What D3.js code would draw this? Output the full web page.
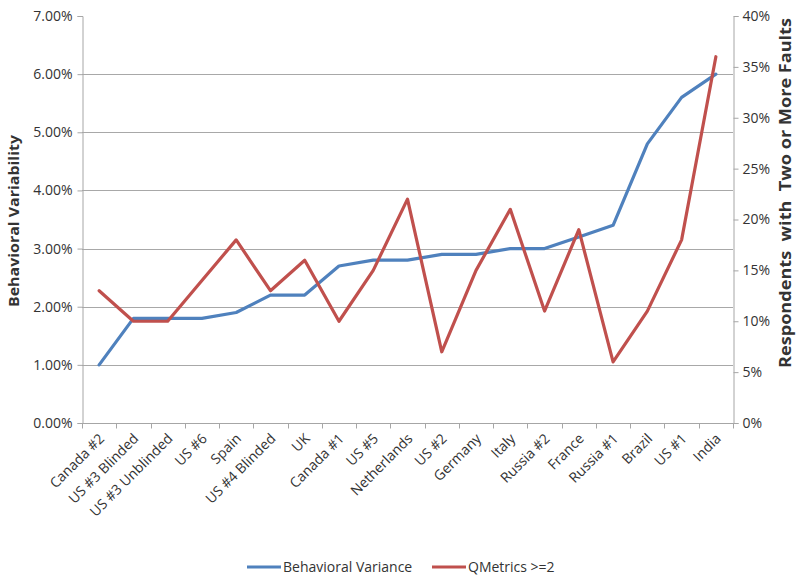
<!DOCTYPE html>
<html>
<head>
<meta charset="utf-8">
<script src="https://cdn.jsdelivr.net/npm/d3@7/dist/d3.min.js"></script>
<style>
  html, body { margin: 0; padding: 0; background: #fff; }
  svg { display: block; }
  text { font-family: "Open Sans", "Noto Sans", sans-serif; fill: #333; }
</style>
</head>
<body>
<svg id="chart" width="797" height="577"></svg>
<script>
// Sites, ordered by behavioral variance
const categories = [
  "Canada #2", "US #3 Blinded", "US #3 Unblinded", "US #6", "Spain",
  "US #4 Blinded", "UK", "Canada #1", "US #5", "Netherlands", "US #2",
  "Germany", "Italy", "Russia #2", "France", "Russia #1", "Brazil", "US #1", "India"
];
// Behavioral variance (left axis, fraction)
const behavioralVariance = [
  0.010, 0.018, 0.018, 0.018, 0.019, 0.022, 0.022, 0.027, 0.028, 0.028,
  0.029, 0.029, 0.030, 0.030, 0.032, 0.034, 0.048, 0.056, 0.060
];
// Share of respondents with two or more faults (right axis, fraction)
const qMetrics = [
  0.13, 0.10, 0.10, 0.14, 0.18, 0.13, 0.16, 0.10, 0.15, 0.22,
  0.07, 0.15, 0.21, 0.11, 0.19, 0.06, 0.11, 0.18, 0.36
];
const leftTicks = [0, 0.01, 0.02, 0.03, 0.04, 0.05, 0.06, 0.07];
const rightTicks = [0, 0.05, 0.10, 0.15, 0.20, 0.25, 0.30, 0.35, 0.40];
const seriesNames = ["Behavioral Variance", "QMetrics >=2"];
const seriesColors = ["#4F81BD", "#C0504D"];

const svg = d3.select("#chart");
const plot = { left: 82, right: 733, top: 16, bottom: 423 };

const x = d3.scaleBand().domain(categories).range([plot.left, plot.right]);
const yL = d3.scaleLinear().domain([0, 0.07]).range([plot.bottom, plot.top]);
const yR = d3.scaleLinear().domain([0, 0.40]).range([plot.bottom, plot.top]);

const axisColor = "#a6a6a6";
const labelColor = "#3a3a3a";
const fontSize = 14;

// horizontal gridlines
svg.append("g")
  .selectAll("line")
  .data(leftTicks.filter(t => t > 0 && t < 0.07))
  .join("line")
  .attr("x1", plot.left).attr("x2", plot.right)
  .attr("y1", d => Math.round(yL(d)) + 0.5).attr("y2", d => Math.round(yL(d)) + 0.5)
  .attr("stroke", "#a8a8a8").attr("stroke-width", 1);

// left axis
const gL = svg.append("g")
  .attr("transform", `translate(${plot.left + 0.5},0)`)
  .call(d3.axisLeft(yL).tickValues(leftTicks).tickFormat(d3.format(".2%")).tickSizeOuter(0).tickSize(5).tickPadding(5));
gL.selectAll("path, line").attr("stroke", axisColor);
gL.selectAll("text").attr("font-size", fontSize).attr("fill", labelColor);

// right axis
const gR = svg.append("g")
  .attr("transform", `translate(${plot.right + 0.5},0)`)
  .call(d3.axisRight(yR).tickValues(rightTicks).tickFormat(d3.format(".0%")).tickSizeOuter(0).tickSize(5).tickPadding(4));
gR.selectAll("path, line").attr("stroke", axisColor);
gR.selectAll("text").attr("font-size", fontSize).attr("fill", labelColor);

// category axis
const gX = svg.append("g").attr("transform", `translate(0,${plot.bottom + 0.5})`);
gX.append("line").attr("x1", plot.left).attr("x2", plot.right + 1).attr("stroke", axisColor);
const boundaries = categories.map(c => x(c)).concat([plot.right]);
gX.selectAll("line.tick").data(boundaries).join("line")
  .attr("class", "tick")
  .attr("x1", d => Math.round(d) + 0.5).attr("x2", d => Math.round(d) + 0.5)
  .attr("y1", 0).attr("y2", 5).attr("stroke", axisColor);
gX.selectAll("text").data(categories).join("text")
  .attr("transform", d => `translate(${x(d) + x.bandwidth() / 2 + 6},${16}) rotate(-45)`)
  .attr("text-anchor", "end")
  .attr("font-size", fontSize)
  .attr("fill", labelColor)
  .text(d => d);

// series lines
const lineL = d3.line().x((d, i) => x(categories[i]) + x.bandwidth() / 2).y(d => yL(d));
const lineR = d3.line().x((d, i) => x(categories[i]) + x.bandwidth() / 2).y(d => yR(d));

svg.append("path").datum(behavioralVariance)
  .attr("d", lineL).attr("fill", "none")
  .attr("stroke", seriesColors[0]).attr("stroke-width", 3.2)
  .attr("stroke-linejoin", "round").attr("stroke-linecap", "round");
svg.append("path").datum(qMetrics)
  .attr("d", lineR).attr("fill", "none")
  .attr("stroke", seriesColors[1]).attr("stroke-width", 3.2)
  .attr("stroke-linejoin", "round").attr("stroke-linecap", "round");

// axis titles
svg.append("text")
  .attr("transform", `translate(19,221) rotate(-90)`)
  .attr("text-anchor", "middle").attr("font-size", 15).attr("font-weight", "bold")
  .attr("fill", "#222")
  .attr("textLength", 172).attr("lengthAdjust", "spacingAndGlyphs")
  .text("Behavioral Variability");
svg.append("text")
  .attr("transform", `translate(791,193) rotate(-90)`)
  .attr("text-anchor", "middle").attr("font-size", 15.5).attr("font-weight", "bold")
  .attr("fill", "#222")
  .attr("xml:space", "preserve").style("white-space", "pre")
  .attr("textLength", 350).attr("lengthAdjust", "spacingAndGlyphs")
  .text("Respondents  with  Two or More Faults");

// legend
const legend = svg.append("g").attr("transform", "translate(0,567)");
const legendX = [247, 432];
seriesNames.forEach((name, i) => {
  legend.append("line")
    .attr("x1", legendX[i]).attr("x2", legendX[i] + 34)
    .attr("y1", 0).attr("y2", 0)
    .attr("stroke", seriesColors[i]).attr("stroke-width", 3.2);
  legend.append("text")
    .attr("x", legendX[i] + 36).attr("y", 5)
    .attr("font-size", fontSize).attr("fill", labelColor)
    .text(name);
});
</script>
</body>
</html>
